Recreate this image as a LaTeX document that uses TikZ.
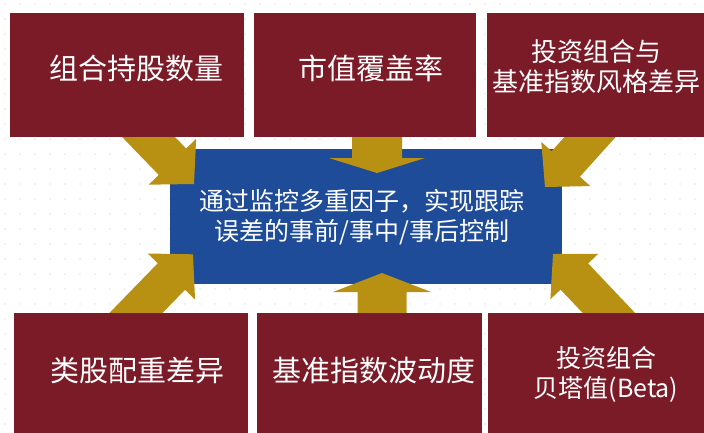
\documentclass[tikz,border=0pt]{standalone}
\usepackage{fontspec}
\newfontfamily\cjk{Noto Sans CJK SC}
\usetikzlibrary{calc}
\definecolor{boxred}{RGB}{124,27,40}
\definecolor{goldarrow}{RGB}{184,145,18}
\definecolor{cblue}{RGB}{30,76,152}
\newcommand{\blkarrow}[5]{%
  \path ($(#2)!#3!(#1)$) coordinate (hb);
  \fill[arrowfill] ($(#1)!#4!90:(#2)$) -- ($(hb)!#4!90:(#2)$) -- ($(hb)!#5!90:(#2)$) -- (#2)
    -- ($(hb)!#5!-90:(#2)$) -- ($(hb)!#4!-90:(#2)$) -- ($(#1)!#4!-90:(#2)$) -- cycle;
}
\begin{document}
\begin{tikzpicture}[x=1pt,y=-1pt,
  redbox/.style={fill=boxred,draw=none},
  bluebox/.style={fill=cblue,draw=none},
  arrowfill/.style={fill=goldarrow},
  big/.style={text=white,inner sep=0pt,align=center,font=\cjk\fontsize{29}{30}\selectfont},
  small/.style={text=white,inner sep=0pt,align=center,font=\cjk\fontsize{25}{30}\selectfont},
  mid/.style={text=white,inner sep=0pt,align=center,font=\cjk\fontsize{26}{30}\selectfont}]
\useasboundingbox (0,0) rectangle (704,432);
\clip (0,0) rectangle (704,432);
\fill[white] (0,0) rectangle (704,432);
\foreach \i in {0,...,46} \foreach \j in {0,...,28} \fill[gray!45] (5+\i*15,4+\j*15) circle (0.7pt);
% centre box
\fill[bluebox] (170,149) coordinate (c1) rectangle (562,284) coordinate (c2);
% arrows
\coordinate (tlS) at (134.6,122.6); \coordinate (tlT) at (194,184);
\coordinate (trS) at (603.4,122.2); \coordinate (trT) at (545,187);
\coordinate (blS) at (122,327.3);   \coordinate (blT) at (193,254.3);
\coordinate (brS) at (622.7,327.5); \coordinate (brT) at (553,254);
\coordinate (tcS) at (377,120);     \coordinate (tcT) at (377,173);
\coordinate (bcS) at (382,330);     \coordinate (bcT) at (382,273);
\blkarrow{tlS}{tlT}{31pt}{19pt}{33pt}
\blkarrow{trS}{trT}{31pt}{19pt}{33pt}
\blkarrow{blS}{blT}{31pt}{19pt}{33pt}
\blkarrow{brS}{brT}{31pt}{19pt}{33pt}
\blkarrow{tcS}{tcT}{15pt}{25pt}{48pt}
\blkarrow{bcS}{bcT}{19pt}{24.5pt}{49pt}
% red boxes
\fill[redbox] (10,13) rectangle (244,137);
\fill[redbox] (254,13) rectangle (476,137);
\fill[redbox] (487,13) rectangle (712,137);
\fill[redbox] (14,313) rectangle (248,440);
\fill[redbox] (257,313) rectangle (482,440);
\fill[redbox] (488,313) rectangle (712,440);
% texts
\node[big] (t1) at (136,68) {组合持股数量};
\node[big] (t2) at (371,68) {市值覆盖率};
\node[mid] (t3) at (596,67) {投资组合与\\基准指数风格差异};
\node[big] (t4) at (137,370) {类股配重差异};
\node[big] (t5) at (374,370) {基准指数波动度};
\node[small] (t6) at (606,374) {投资组合\\贝塔值(Beta)};
\node[small] (tc) at (362,217) {通过监控多重因子，实现跟踪\\误差的事前/事中/事后控制};
\end{tikzpicture}
\end{document}
